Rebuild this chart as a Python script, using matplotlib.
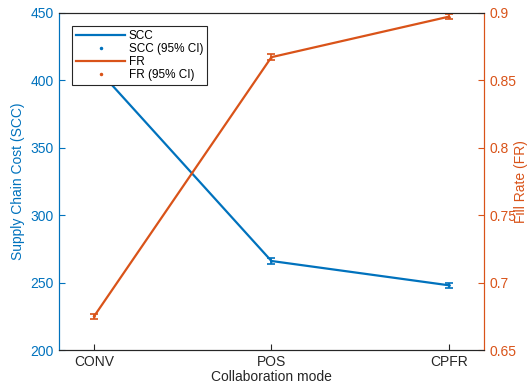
import numpy as np
import matplotlib
matplotlib.use('Agg')
import matplotlib.pyplot as plt
from matplotlib.lines import Line2D

plt.rcParams['font.family'] = ['Liberation Sans', 'DejaVu Sans']
plt.rcParams['font.size'] = 10

# Résultats par mode de collaboration
modes = ['CONV', 'POS', 'CPFR']
scc = [411, 266, 248]
scc_ci = [2.0, 2.0, 2.0]
fr = [0.675, 0.867, 0.897]
fr_ci = [0.002, 0.002, 0.002]

blue = '#0072BD'
orange = '#D95319'
grey = '#262626'

x = np.arange(1, len(modes) + 1)

fig = plt.figure(figsize=(5.28, 3.83), dpi=100)
ax = fig.add_axes([0.111, 0.086, 0.806, 0.881])
ax2 = ax.twinx()

# --- coût (axe gauche) ---
ax.plot(x, scc, color=blue, linewidth=1.6)
ax.errorbar(x, scc, yerr=scc_ci, fmt='.', color=blue, markersize=2,
            capsize=3, elinewidth=1.2, capthick=1.2)
ax.set_ylim(200, 450)
ax.set_yticks(np.arange(200, 451, 50))
ax.set_ylabel('Supply Chain Cost (SCC)', color=blue, labelpad=4)

# --- taux de service (axe droit) ---
ax2.plot(x, fr, color=orange, linewidth=1.6)
ax2.errorbar(x, fr, yerr=fr_ci, fmt='.', color=orange, markersize=2,
             capsize=3, elinewidth=1.2, capthick=1.2)
ax2.set_ylim(0.65, 0.9)
ax2.set_yticks([0.65, 0.7, 0.75, 0.8, 0.85, 0.9])
ax2.set_yticklabels(['0.65', '0.7', '0.75', '0.8', '0.85', '0.9'])
ax2.set_ylabel('Fill Rate (FR)', color=orange)
ax2.yaxis.set_label_coords(1.071, 0.5)

ax.set_xlim(0.8, 3.2)
ax.set_xticks(x)
ax.set_xticklabels(modes)
ax.set_xlabel('Collaboration mode', color=grey, labelpad=1)

# style des axes
for a in (ax, ax2):
    for s in a.spines.values():
        s.set_linewidth(0.8)
        s.set_color(grey)
ax.spines['left'].set_color(blue)
ax2.spines['left'].set_color(blue)
ax2.spines['right'].set_color(orange)
ax.spines['right'].set_color(orange)
ax.tick_params(axis='y', direction='in', length=4, colors=blue, labelcolor=blue)
ax.tick_params(axis='x', direction='in', length=4, colors=grey, labelcolor=grey)
ax2.tick_params(axis='y', direction='in', length=4, colors=orange, labelcolor=orange)

handles = [
    Line2D([], [], color=blue, linewidth=1.6),
    Line2D([], [], color=blue, linestyle='none', marker='.', markersize=3),
    Line2D([], [], color=orange, linewidth=1.6),
    Line2D([], [], color=orange, linestyle='none', marker='.', markersize=3),
]
labels = ['SCC', 'SCC (95% CI)', 'FR', 'FR (95% CI)']
leg = ax2.legend(handles, labels, loc='upper left', bbox_to_anchor=(0.032, 0.96),
                 fontsize=8.5, frameon=True, fancybox=False, edgecolor=grey,
                 framealpha=1, borderpad=0.3, labelspacing=0.1,
                 handlelength=4.2, handletextpad=0.3, borderaxespad=0)
leg.get_frame().set_linewidth(0.8)

fig.savefig('out.png', dpi=100)
